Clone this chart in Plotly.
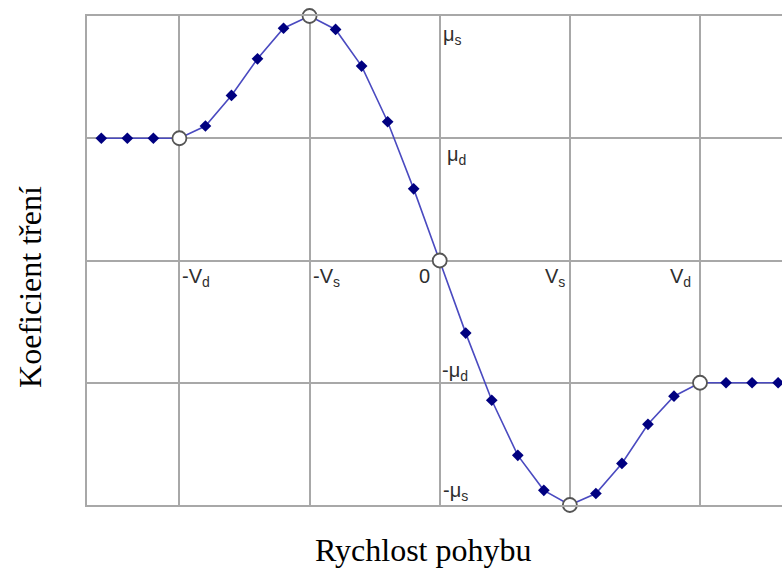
import plotly.graph_objects as go

# Friction coefficient vs. sliding velocity (Vs = 1, Vd = 2, mu_d = 1, mu_s = 2 units)
velocity = [-2.6, -2.4, -2.2, -2.0, -1.8, -1.6, -1.4, -1.2, -1.0, -0.8, -0.6, -0.4, -0.2,
            0.0, 0.2, 0.4, 0.6, 0.8, 1.0, 1.2, 1.4, 1.6, 1.8, 2.0, 2.2, 2.4, 2.6]
friction = [1.0, 1.0, 1.0, 1.0, 1.10, 1.35, 1.65, 1.90, 2.0, 1.89, 1.59, 1.135, 0.586,
            0.0, -0.594, -1.143, -1.594, -1.88, -2.0, -1.906, -1.66, -1.34, -1.11, -1.0, -1.0, -1.0, -1.0]
key_velocity = [-2.0, -1.0, 0.0, 1.0, 2.0]

grid_x = [-2, -1, 0, 1, 2]
grid_y = [-1, 0, 1]

x_labels = ["-V<sub>d</sub>", "-V<sub>s</sub>", "0", "V<sub>s</sub>", "V<sub>d</sub>"]
y_labels = ["μ<sub>s</sub>", "μ<sub>d</sub>", "-μ<sub>d</sub>", "-μ<sub>s</sub>"]
y_label_vals = [2, 1, -1, -2]

key_friction = [friction[velocity.index(v)] for v in key_velocity]
plain_v = [v for v in velocity if v not in key_velocity]
plain_f = [f for v, f in zip(velocity, friction) if v not in key_velocity]

GRID = "#a8a8a8"
TXT = "#2e2e2e"

fig = go.Figure()
fig.add_trace(go.Scatter(x=velocity, y=friction, mode="lines",
                         line=dict(color="#4a4ac0", width=1.6), cliponaxis=False,
                         hoverinfo="skip"))
fig.add_trace(go.Scatter(x=plain_v, y=plain_f, mode="markers", cliponaxis=False,
                         marker=dict(symbol="diamond", size=9, color="#000080")))
fig.add_trace(go.Scatter(x=key_velocity, y=key_friction, mode="markers", cliponaxis=False,
                         marker=dict(symbol="circle", size=14, color="white",
                                     line=dict(color="#555555", width=1.8))))

# Axis value labels placed next to the grid lines
label_font = dict(family="Liberation Sans, Arial", size=20, color=TXT)
x_anchor = ["left", "left", "right", "right", "right"]
x_shift = [1, 1, -8, -3, -7]
for xv, txt, anc, sh in zip(grid_x, x_labels, x_anchor, x_shift):
    fig.add_annotation(x=xv, y=0, xref="x", yref="y", text=txt, showarrow=False,
                       xanchor=anc, yanchor="top", xshift=sh, yshift=-2, font=label_font)

y_anchor = ["top", "top", "bottom", "bottom"]
y_shift = [-5, -3, -3, -1]
y_xshift = [1, 5, 0, 1]
for yv, txt, anc, sh, xs in zip(y_label_vals, y_labels, y_anchor, y_shift, y_xshift):
    fig.add_annotation(x=0, y=yv, xref="x", yref="y", text=txt, showarrow=False,
                       xanchor="left", yanchor=anc, xshift=xs, yshift=sh, font=label_font)

title_font = dict(family="Liberation Serif, Times New Roman", size=32, color="black")
fig.add_annotation(x=0.4835, y=-0.1309, xref="paper", yref="paper", text="Rychlost pohybu",
                   showarrow=False, xanchor="center", yanchor="bottom", borderpad=0,
                   font=title_font)
fig.add_annotation(x=-0.082, y=0.446, xref="paper", yref="paper", text="Koeficient tření",
                   showarrow=False, xanchor="center", yanchor="middle", textangle=-90,
                   font=title_font)

fig.update_xaxes(range=[-2.71, 2.63], tickvals=grid_x, showticklabels=False, ticks="",
                 showgrid=True, gridcolor=GRID, gridwidth=1.8, zeroline=False,
                 showline=True, linecolor=GRID, linewidth=1.8, mirror=True)
fig.update_yaxes(range=[-2, 2], tickvals=grid_y, showticklabels=False, ticks="",
                 showgrid=True, gridcolor=GRID, gridwidth=1.8, zeroline=False,
                 showline=True, linecolor=GRID, linewidth=1.8, mirror=False)

fig.update_layout(width=782, height=569, margin=dict(l=87, r=0, t=16, b=64),
                  plot_bgcolor="white", paper_bgcolor="white", showlegend=False)

fig.write_html("out.html")
